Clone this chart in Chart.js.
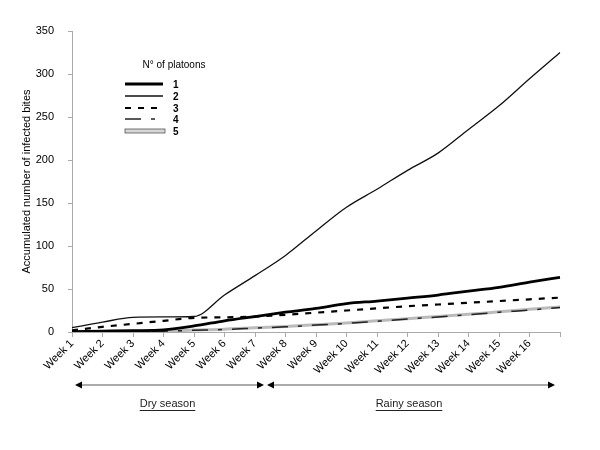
<!DOCTYPE html>
<html>
<head>
<meta charset="utf-8">
<script src="https://cdn.jsdelivr.net/npm/chart.js@4"></script>
<style>
  body { margin: 0; background: #fff; }
  #wrap { width: 600px; height: 450px; }
</style>
</head>
<body>
<div id="wrap"><canvas id="chart" width="600" height="450"></canvas></div>
<script>
// weeks (last slot is the end of week 16, no label)
const weeks = ["Week 1", "Week 2", "Week 3", "Week 4", "Week 5", "Week 6", "Week 7", "Week 8",
    "Week 9", "Week 10", "Week 11", "Week 12", "Week 13", "Week 14", "Week 15", "Week 16", ""];

// accumulated infected bites per number of platoons
const platoons1 = [0.5, 1, 1.5, 2.5, 7, 13, 18, 23, 27.5, 33, 36, 39.5, 43, 47.5, 52, 58, 63.5];
const platoons2 = [5, 11.5, 17, 17.5, 18, 43, 65.5, 89, 117.5, 145, 166, 188, 208, 235.5, 263, 294.5, 325];
const platoons3 = [2, 6, 9.5, 13, 16.5, 17, 18, 20, 22.5, 25, 27.5, 30, 32, 34, 36, 38, 40];
const platoons4 = [0, 0.3, 0.6, 1, 2, 3, 4.5, 6, 8, 10, 12.5, 15, 17.5, 20, 23, 25.5, 28.5];
const platoons5 = [0, 0.5, 0.8, 1.2, 2.3, 3.3, 5, 6.5, 8.5, 10.5, 13, 15.5, 18, 20.5, 23.5, 26.5, 29];

const yTicks = { min: 0, max: 350, step: 50 };

const FONT = "Arial, 'Liberation Sans', sans-serif";

// legend drawn inside the plot like the original
const legendPlugin = {
    id: 'boxLegend',
    afterDraw: function (chart) {
        const ctx = chart.ctx;
        ctx.save();
        ctx.fillStyle = '#000';
        ctx.font = '10px ' + FONT;
        ctx.textAlign = 'center';
        ctx.textBaseline = 'middle';
        ctx.fillText('N\u00b0 of platoons', 174, 65);

        const rows = [84, 96, 108, 119, 131];
        ctx.font = 'bold 10px ' + FONT;
        ctx.textAlign = 'left';
        chart.data.datasets.forEach(function (ds, i) {
            const y = rows[i];
            if (i === 4) {
                ctx.fillStyle = '#d6d6d6';
                ctx.fillRect(125, y - 2, 40, 4);
                ctx.strokeStyle = '#555';
                ctx.lineWidth = 0.8;
                ctx.strokeRect(125, y - 2, 40, 4);
            } else {
                ctx.strokeStyle = ds.borderColor;
                ctx.lineWidth = ds.borderWidth;
                ctx.setLineDash(ds.borderDash || []);
                ctx.beginPath();
                ctx.moveTo(125, y);
                ctx.lineTo(163, y);
                ctx.stroke();
                ctx.setLineDash([]);
            }
            ctx.fillStyle = '#000';
            ctx.fillText(ds.label, 173, y + 1);
        });
        ctx.restore();
    }
};

// season arrows under the x axis
const seasonPlugin = {
    id: 'seasons',
    afterDraw: function (chart) {
        const ctx = chart.ctx;
        const y = 385;
        const parts = [
            { from: 75, to: 264, text: 'Dry season' },
            { from: 267, to: 555, text: 'Rainy season' }
        ];
        ctx.save();
        parts.forEach(function (p) {
            ctx.strokeStyle = '#aaa';
            ctx.lineWidth = 2;
            ctx.beginPath();
            ctx.moveTo(p.from + 5, y);
            ctx.lineTo(p.to - 5, y);
            ctx.stroke();
            ctx.fillStyle = '#000';
            ctx.beginPath();
            ctx.moveTo(p.from, y);
            ctx.lineTo(p.from + 7, y - 3.5);
            ctx.lineTo(p.from + 7, y + 3.5);
            ctx.fill();
            ctx.beginPath();
            ctx.moveTo(p.to, y);
            ctx.lineTo(p.to - 7, y - 3.5);
            ctx.lineTo(p.to - 7, y + 3.5);
            ctx.fill();

            const cx = (p.from + p.to) / 2 - 2;
            ctx.font = '11px ' + FONT;
            ctx.textAlign = 'center';
            ctx.textBaseline = 'middle';
            ctx.fillStyle = '#222';
            ctx.fillText(p.text, cx, 404);
            const w = ctx.measureText(p.text).width;
            ctx.strokeStyle = '#222';
            ctx.lineWidth = 1;
            ctx.beginPath();
            ctx.moveTo(cx - w / 2, 410.5);
            ctx.lineTo(cx + w / 2, 410.5);
            ctx.stroke();
        });
        ctx.restore();
    }
};

const ctx = document.getElementById('chart').getContext('2d');
const chart = new Chart(ctx, {
    type: 'line',
    data: {
        labels: weeks,
        datasets: [
            { label: '1', data: platoons1, borderColor: '#000', borderWidth: 2.8 },
            { label: '2', data: platoons2, borderColor: '#111', borderWidth: 1.3 },
            { label: '3', data: platoons3, borderColor: '#000', borderWidth: 2.2, borderDash: [6, 7] },
            { label: '4', data: platoons4, borderColor: '#222', borderWidth: 1.5, borderDash: [16, 10, 4, 10] },
            { label: '5', data: platoons5, borderColor: '#bbb', borderWidth: 3 }
        ]
    },
    options: {
        responsive: false,
        animation: false,
        layout: { padding: { left: 20, right: 40, top: 31, bottom: 0 } },
        elements: {
            point: { radius: 0 },
            line: { tension: 0.4, cubicInterpolationMode: 'monotone', fill: false }
        },
        plugins: {
            legend: { display: false },
            tooltip: { enabled: false }
        },
        scales: {
            x: {
                offset: false,
                afterFit: function (scale) { scale.height = 118; },
                border: { color: '#aaa', width: 1 },
                grid: { drawOnChartArea: false, tickLength: 5, color: '#aaa' },
                ticks: {
                    autoSkip: false,
                    maxRotation: 45,
                    minRotation: 45,
                    color: '#000',
                    padding: 0,
                    font: { family: FONT, size: 11 }
                }
            },
            y: {
                min: yTicks.min,
                max: yTicks.max,
                afterFit: function (scale) { scale.width = 52; },
                border: { color: '#aaa', width: 1 },
                grid: { drawOnChartArea: false, tickLength: 4, color: '#aaa' },
                ticks: {
                    stepSize: yTicks.step,
                    color: '#000',
                    padding: 14,
                    font: { family: FONT, size: 11 }
                },
                title: {
                    display: true,
                    text: 'Accumulated number of infected bites',
                    color: '#000',
                    padding: { top: 0, bottom: 6 },
                    font: { family: FONT, size: 11 }
                }
            }
        }
    },
    plugins: [legendPlugin, seasonPlugin]
});
</script>
</body>
</html>
